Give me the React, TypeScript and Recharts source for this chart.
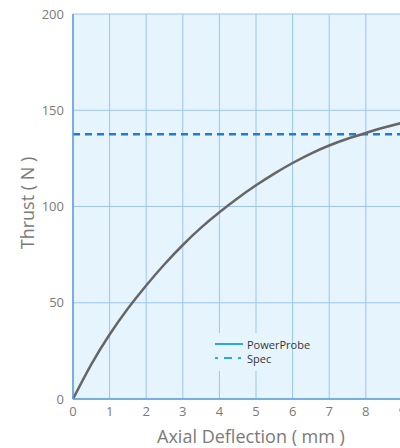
import React from "react";
import { LineChart, Line, XAxis, YAxis, CartesianGrid } from "recharts";

// deflection (mm) vs thrust (N)
const deflection = [0, 0.5, 1, 1.5, 2, 2.5, 3, 3.5, 4, 4.5, 5, 5.5, 6, 6.5, 7, 7.5, 8, 8.5, 9, 9.5];
const powerProbe = [0, 18, 33.5, 47, 59, 70, 80, 89, 97, 104.3, 111, 117.1, 122.6, 127.5, 131.7, 135.2, 138.2, 141, 143.5, 145.8];
const spec = [137.5, 137.5, 137.5, 137.5, 137.5, 137.5, 137.5, 137.5, 137.5, 137.5, 137.5, 137.5, 137.5, 137.5, 137.5, 137.5, 137.5, 137.5, 137.5, 137.5];
const xTicks = [0, 1, 2, 3, 4, 5, 6, 7, 8, 9, 10];
const yTicks = [0, 50, 100, 150, 200];
const legendItems = [
  { name: "PowerProbe", dash: undefined },
  { name: "Spec", dash: "3 6 8 6" },
];

const data = deflection.map((d, i) => ({ d, powerProbe: powerProbe[i], spec: spec[i] }));

const FONT = "'Open Sans', 'Noto Sans', sans-serif";
const PLOT_BG = "#e6f5fd";

function ChartLegend({ x, y }: { x: number; y: number }) {
  return (
    <g>
      <rect x={x} y={y} width={72} height={38} fill={PLOT_BG} />
      {legendItems.map((item, i) => (
        <g key={item.name}>
          <line x1={x + 4} y1={y + 11 + i * 14} x2={x + 32} y2={y + 11 + i * 14} stroke="#29abe2" strokeWidth={2} strokeDasharray={item.dash} />
          <text x={x + 36} y={y + 11 + i * 14} dominantBaseline="central" fontSize={11} fontFamily={FONT} fill="#333333">
            {item.name}
          </text>
        </g>
      ))}
    </g>
  );
}

export default function App() {
  return (
    <div style={{ position: "absolute", left: 0, top: 0, width: 400, height: 448, overflow: "hidden", background: "#fff" }}>
      <LineChart width={460} height={448} data={data} margin={{ top: 14, right: 21, left: 21, bottom: 0 }}>
        <CartesianGrid fill={PLOT_BG} stroke="#9cc4ec" strokeWidth={1} />
        <XAxis
          dataKey="d"
          type="number"
          domain={[0, 10]}
          ticks={xTicks}
          interval={0}
          height={49}
          tickLine={false}
          axisLine={{ stroke: "#5b9fdc", strokeWidth: 1.5 }}
          tick={{ fill: "#7a7a7a", fontSize: 13, fontFamily: FONT }}
          tickMargin={2}
          label={{ value: "Axial Deflection ( mm )", position: "insideBottom", offset: 5, dx: -5, fill: "#7a7a7a", fontSize: 18, fontFamily: FONT }}
        />
        <YAxis
          type="number"
          domain={[0, 200]}
          ticks={yTicks}
          width={52}
          tickLine={false}
          axisLine={{ stroke: "#5b9fdc", strokeWidth: 1.5 }}
          tick={{ fill: "#7a7a7a", fontSize: 13, fontFamily: FONT }}
          tickMargin={3}
        />
        <ChartLegend x={211} y={333} />
        <Line dataKey="spec" name="Spec" stroke="#1b7fd1" strokeWidth={2.5} strokeDasharray="7 5" dot={false} isAnimationActive={false} />
        <Line dataKey="powerProbe" name="PowerProbe" type="natural" stroke="#666666" strokeWidth={2.5} dot={false} isAnimationActive={false} />
        <text x={27} y={203} transform="rotate(-90 27 203)" textAnchor="middle" dominantBaseline="central" fill="#7a7a7a" fontSize={18} fontFamily={FONT}>
          Thrust ( N )
        </text>
      </LineChart>
    </div>
  );
}
